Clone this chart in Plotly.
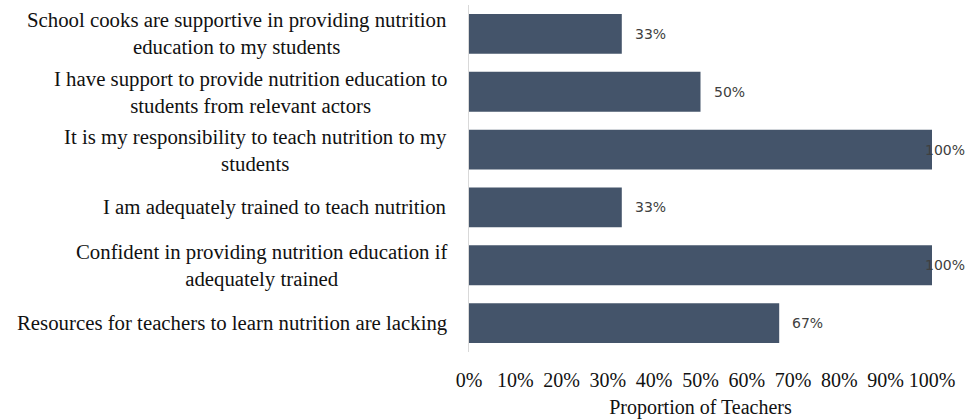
import plotly.graph_objects as go

categories = [
    "School cooks are supportive in providing nutrition<br>education to my students",
    "I have support to provide nutrition education to<br>students from relevant actors",
    "It is my responsibility to teach nutrition to my<br>students",
    "I am adequately trained to teach nutrition",
    "Confident in providing nutrition education if<br>adequately trained",
    "Resources for teachers to learn nutrition are lacking",
]
values = [0.33, 0.50, 1.00, 0.33, 1.00, 0.67]
value_labels = ["33%", "50%", "100%", "33%", "100%", "67%"]
tick_vals = [0, 0.1, 0.2, 0.3, 0.4, 0.5, 0.6, 0.7, 0.8, 0.9, 1.0]
tick_text = ["0%", "10%", "20%", "30%", "40%", "50%", "60%", "70%", "80%", "90%", "100%"]

ids = list(range(len(categories)))
SERIF = "Liberation Serif"

fig = go.Figure()
fig.add_trace(go.Bar(
    y=ids, x=values, orientation="h",
    marker=dict(color="#44546A", line=dict(width=0)),
    width=0.69,
))

annotations = []
for i, (cat, v, lab) in enumerate(zip(categories, values, value_labels)):
    annotations.append(dict(
        x=0, xref="paper", y=i, yref="y", text=cat, showarrow=False,
        xanchor="right", yanchor="middle", align="center", xshift=-20,
        font=dict(family=SERIF, size=20.8, color="#111111"),
    ))
    annotations.append(dict(
        x=v, xref="x", y=i, yref="y", text=lab, showarrow=False,
        xanchor="left", yanchor="middle",
        xshift=(-9 if v >= 1 else 11),
        font=dict(family="DejaVu Sans", size=14, color="#404040"),
    ))

fig.update_layout(
    width=977, height=419,
    margin=dict(l=469, r=45, t=5, b=67),
    paper_bgcolor="white", plot_bgcolor="white",
    showlegend=False,
    annotations=annotations,
    xaxis=dict(
        range=[0, 1], tickvals=tick_vals, ticktext=tick_text,
        showgrid=False, zeroline=False, showline=False, ticks="",
        ticklabelstandoff=14,
        tickfont=dict(family=SERIF, size=20, color="#111111"),
        title=dict(text="Proportion of Teachers",
                   font=dict(family=SERIF, size=20, color="#111111"),
                   standoff=9),
    ),
    yaxis=dict(
        tickvals=ids, showticklabels=False, autorange="reversed",
        showgrid=False, zeroline=False, showline=True, linecolor="#d9d9d9",
        linewidth=1, ticks="",
    ),
)

fig.write_html("out.html", post_script="document.body.style.margin='0';",
               config={"displayModeBar": False})
